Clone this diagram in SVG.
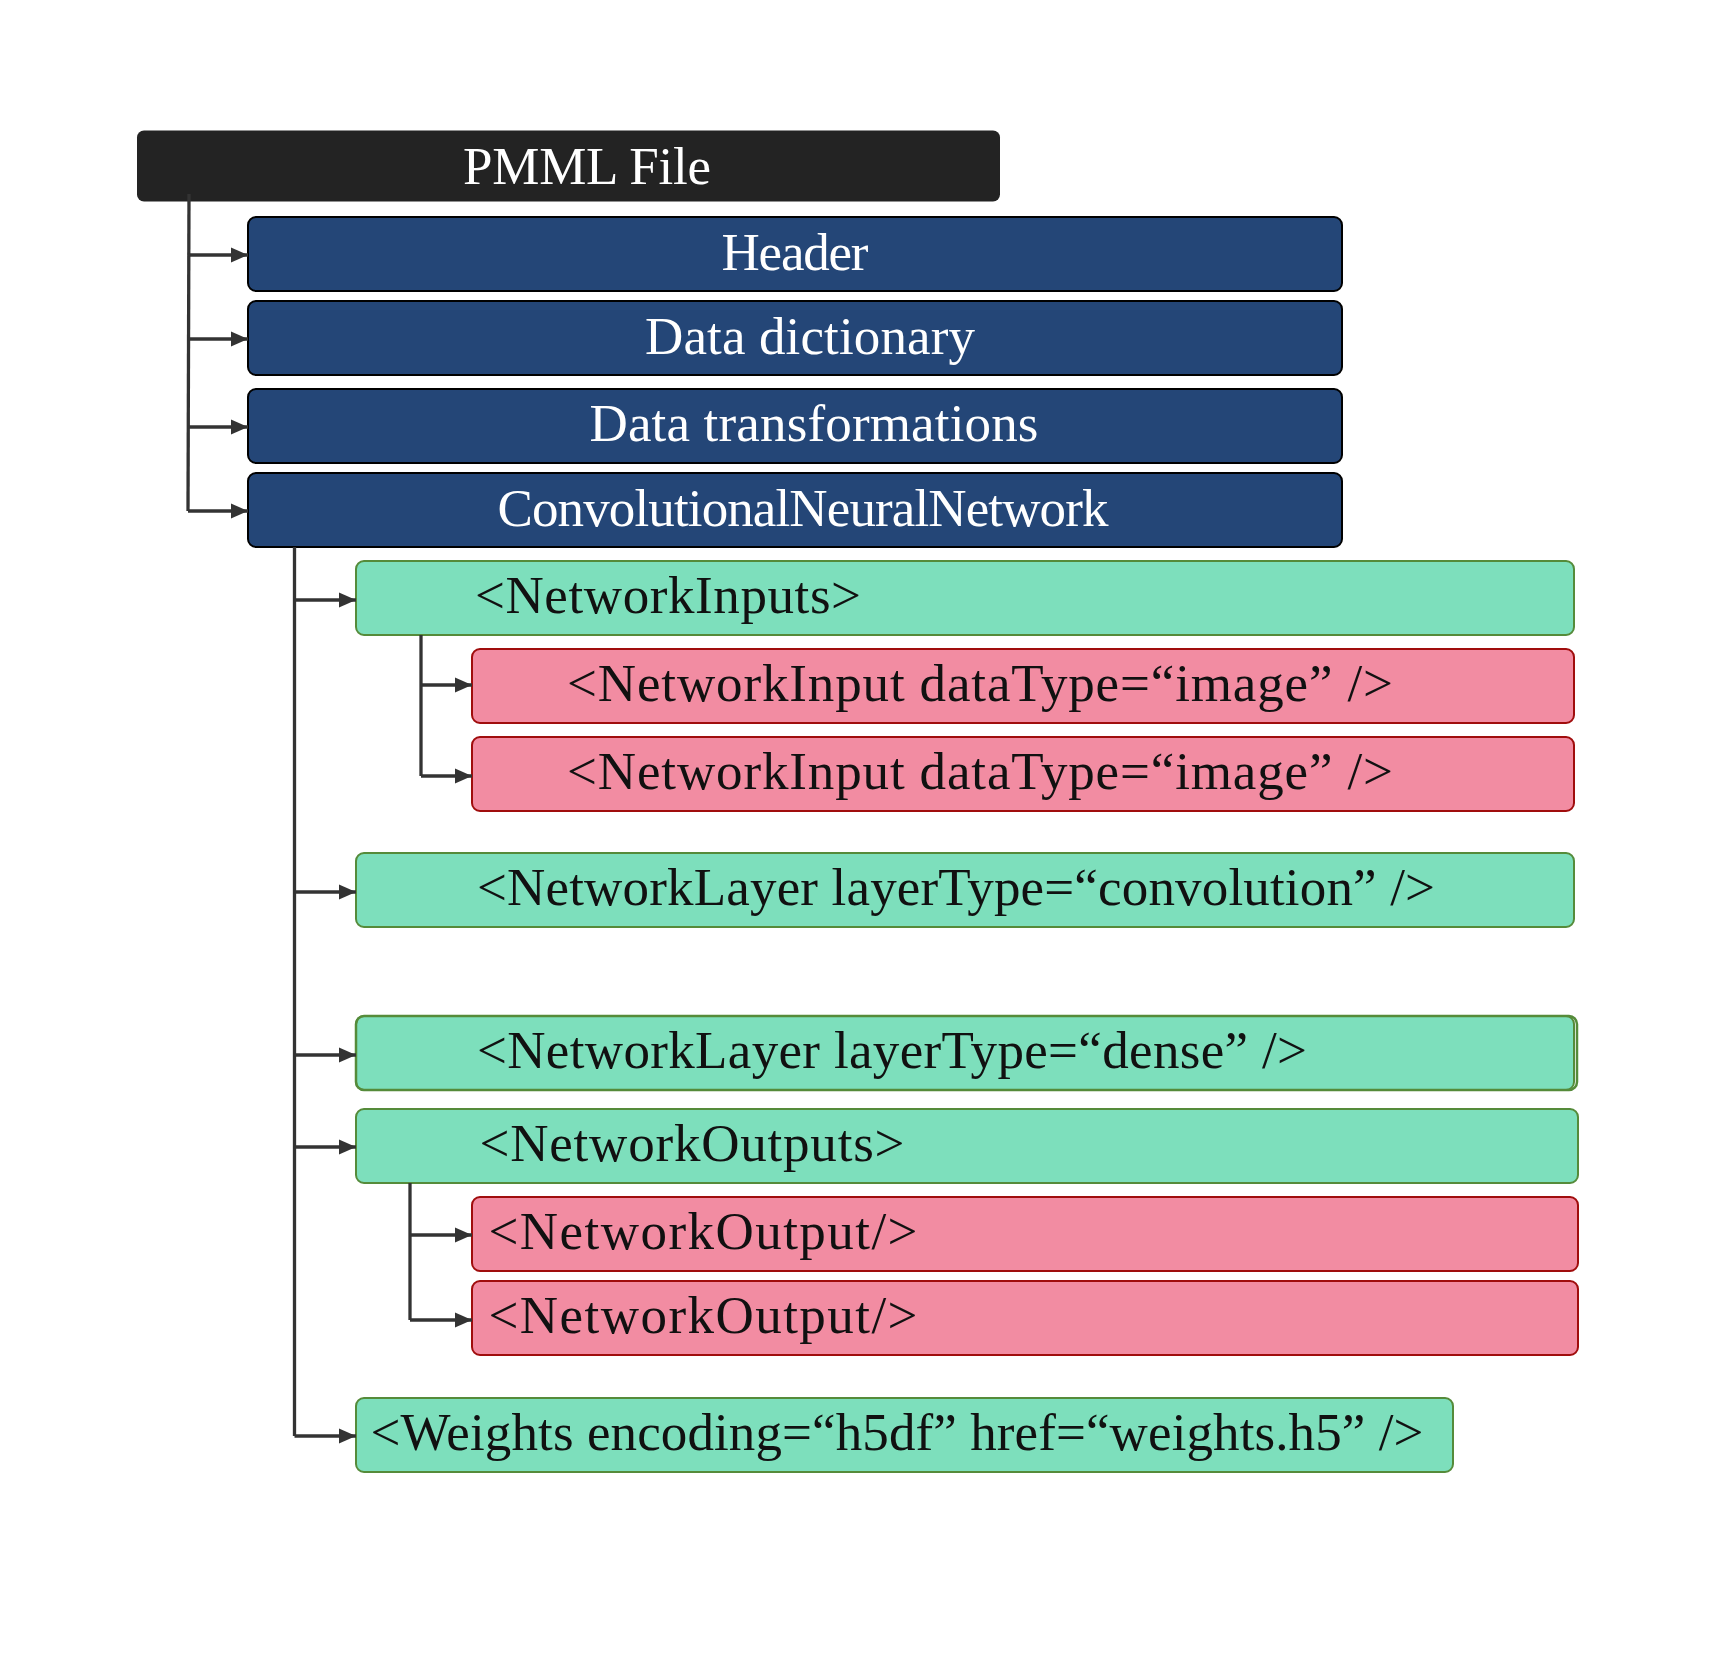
<svg xmlns="http://www.w3.org/2000/svg" width="1720" height="1677" viewBox="0 0 1720 1677">
<defs>
<style>
.t{font-family:"Liberation Serif","DejaVu Serif",serif;font-size:53px;text-anchor:middle}
.w{fill:#ffffff}
.k{fill:#111111}
.root{fill:#232323}
.blue{fill:#244677;stroke:#000000;stroke-width:2}
.green{fill:#7ddfbc;stroke:#558b3a;stroke-width:2}
.pink{fill:#f28ca2;stroke:#a00d0d;stroke-width:2}
.c{fill:none;stroke:#333333;stroke-width:3.3}
</style>
<marker id="ah" markerUnits="userSpaceOnUse" markerWidth="17" markerHeight="17" refX="17" refY="8.5" orient="auto">
<path d="M0,1 L17,8.5 L0,16 z" fill="#333333"/>
</marker>
</defs>
<rect width="1720" height="1677" fill="#ffffff"/>

<g id="pmml">
<rect class="root" x="137" y="130.5" width="863" height="71" rx="7"/>
<text class="t w" x="587" y="184" textLength="248">PMML File</text>
</g>
<g id="header">
<rect class="blue" x="248" y="217" width="1094" height="74" rx="8"/>
<text class="t w" x="795" y="270" textLength="147">Header</text>
</g>
<g id="datadict">
<rect class="blue" x="248" y="301" width="1094" height="74" rx="8"/>
<text class="t w" x="810" y="354" textLength="330">Data dictionary</text>
</g>
<g id="datatrans">
<rect class="blue" x="248" y="389" width="1094" height="74" rx="8"/>
<text class="t w" x="814" y="441" textLength="449">Data transformations</text>
</g>
<g id="cnn">
<rect class="blue" x="248" y="473" width="1094" height="74" rx="8"/>
<text class="t w" x="803" y="526" textLength="611">ConvolutionalNeuralNetwork</text>
</g>
<g id="netinputs">
<rect class="green" x="356" y="561" width="1218" height="74" rx="8"/>
<text class="t k" x="668" y="613" textLength="386">&lt;NetworkInputs&gt;</text>
</g>
<g id="netinput1">
<rect class="pink" x="472" y="649" width="1102" height="74" rx="8"/>
<text class="t k" x="980" y="701" textLength="826">&lt;NetworkInput dataType=“image” /&gt;</text>
</g>
<g id="netinput2">
<rect class="pink" x="472" y="737" width="1102" height="74" rx="8"/>
<text class="t k" x="980" y="789" textLength="826">&lt;NetworkInput dataType=“image” /&gt;</text>
</g>
<g id="convlayer">
<rect class="green" x="356" y="853" width="1218" height="74" rx="8"/>
<text class="t k" x="956" y="905" textLength="958">&lt;NetworkLayer layerType=“convolution” /&gt;</text>
</g>
<g id="denselayer">
<rect class="green" x="356" y="1016" width="1218" height="74" rx="8"/>
<rect x="356" y="1016" width="1221" height="74" rx="8" fill="none" stroke="#558b3a" stroke-width="2.5"/>
<text class="t k" x="892" y="1068" textLength="830">&lt;NetworkLayer layerType=“dense” /&gt;</text>
</g>
<g id="netoutputs">
<rect class="green" x="356" y="1109" width="1222" height="74" rx="8"/>
<text class="t k" x="692" y="1161" textLength="425">&lt;NetworkOutputs&gt;</text>
</g>
<g id="netoutput1">
<rect class="pink" x="472" y="1197" width="1106" height="74" rx="8"/>
<text class="t k" x="703" y="1249" textLength="429">&lt;NetworkOutput/&gt;</text>
</g>
<g id="netoutput2">
<rect class="pink" x="472" y="1281" width="1106" height="74" rx="8"/>
<text class="t k" x="703" y="1333" textLength="429">&lt;NetworkOutput/&gt;</text>
</g>
<g id="weights">
<rect class="green" x="356" y="1398" width="1097" height="74" rx="8"/>
<text class="t k" x="897" y="1450" textLength="1053">&lt;Weights encoding=“h5df” href=“weights.h5” /&gt;</text>
</g>

<g id="connectors">
<path class="c" d="M189,194 L188,511"/>
<path class="c" d="M188,255 L248,255" marker-end="url(#ah)"/>
<path class="c" d="M188,339 L248,339" marker-end="url(#ah)"/>
<path class="c" d="M188,427 L248,427" marker-end="url(#ah)"/>
<path class="c" d="M188,511 L248,511" marker-end="url(#ah)"/>

<path class="c" d="M294.5,547 L294.5,1436"/>
<path class="c" d="M294.5,600 L356,600" marker-end="url(#ah)"/>
<path class="c" d="M294.5,892 L356,892" marker-end="url(#ah)"/>
<path class="c" d="M294.5,1055 L356,1055" marker-end="url(#ah)"/>
<path class="c" d="M294.5,1147 L356,1147" marker-end="url(#ah)"/>
<path class="c" d="M294.5,1436 L356,1436" marker-end="url(#ah)"/>

<path class="c" d="M421,635 L421,776"/>
<path class="c" d="M421,685 L472,685" marker-end="url(#ah)"/>
<path class="c" d="M421,776 L472,776" marker-end="url(#ah)"/>

<path class="c" d="M410,1183 L410,1320"/>
<path class="c" d="M410,1235 L472,1235" marker-end="url(#ah)"/>
<path class="c" d="M410,1320 L472,1320" marker-end="url(#ah)"/>
</g>
</svg>
